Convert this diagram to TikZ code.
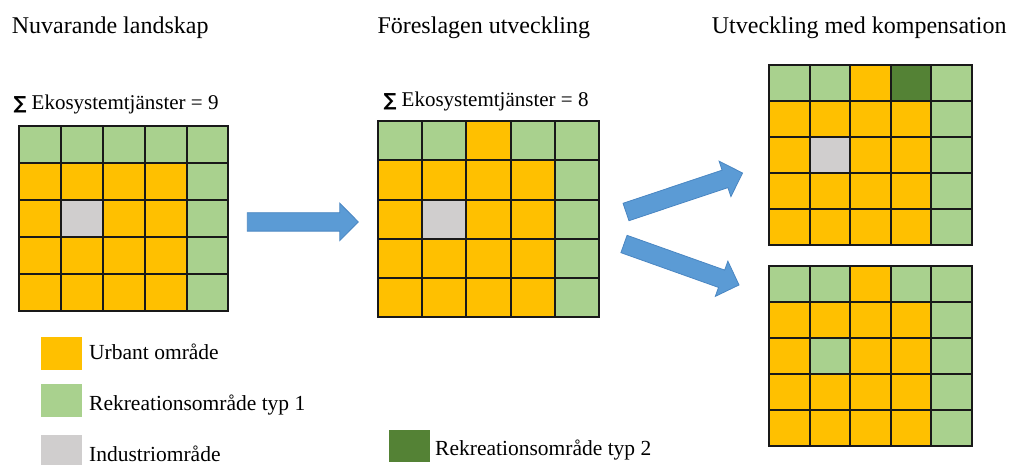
\documentclass[tikz,border=0pt]{standalone}
\usepackage{fontspec}
\setmainfont{Liberation Serif}
\newfontfamily\sigmafont{DejaVu Sans Bold}
\definecolor{cO}{HTML}{FFC000}
\definecolor{cG}{HTML}{A9D18E}
\definecolor{cI}{HTML}{D0CECE}
\definecolor{cD}{HTML}{548235}
\definecolor{arrowfill}{HTML}{5B9BD5}
\definecolor{arrowedge}{HTML}{4A86C2}
\newcommand\LandGrid[5]{%
  \foreach \cc [count=\i from 0] in {#5} {
    \pgfmathtruncatemacro\gc{mod(\i,5)}
    \pgfmathtruncatemacro\gr{div(\i,5)}
    \fill[fill=c\cc] ({#1+\gc*#3},{#2+\gr*#4}) rectangle ++(#3,#4);
  }
  \foreach \k in {0,...,5} {
    \draw[gridline] ({#1+\k*#3},#2) -- ({#1+\k*#3},{#2+5*#4});
    \draw[gridline] (#1,{#2+\k*#4}) -- ({#1+5*#3},{#2+\k*#4});
  }
}
\newcommand\BlockArrow[4]{%
  \begin{scope}[shift={(#1,#2)}, rotate=#3]
    \draw[arrowbox] (0,-9.2) -- ({#4-18.5},-9.2) -- ({#4-18.5},-18.7) -- (#4,0)
      -- ({#4-18.5},18.7) -- ({#4-18.5},9.2) -- (0,9.2) -- cycle;
  \end{scope}}
\begin{document}
\begin{tikzpicture}[x=1pt,y=-1pt,
  gridline/.style={line width=2pt, line cap=rect, black!90},
  arrowbox/.style={fill=arrowfill, draw=arrowedge, line width=0.8pt, line join=miter},
  title/.style={font=\fontsize{24}{28}\selectfont, inner sep=0pt, anchor=base west},
  label/.style={font=\fontsize{21.5}{26}\selectfont, inner sep=0pt, anchor=base west},
  sumlabel/.style={font=\fontsize{21}{26}\selectfont, inner sep=0pt, anchor=base west},
  legsq/.style={inner sep=0pt, minimum width=40.7pt, minimum height=33.3pt, anchor=north west}]
\useasboundingbox (0,0) rectangle (1009,464);
% titles
\node[title] (t1) at (11.7,33) {Nuvarande landskap};
\node[title] (t2) at (377.3,33) {Föreslagen utveckling};
\node[title] (t3) at (711.7,33) {Utveckling med kompensation};
% sums
\node[sumlabel] (s1) at (13.3,109) {{\sigmafont\fontsize{18}{20}\selectfont ∑} Ekosystemtjänster = 9};
\node[sumlabel] (s2) at (383.3,106.7) {{\sigmafont\fontsize{18}{20}\selectfont ∑} Ekosystemtjänster = 8};
% grids
\LandGrid{19.3}{125.7}{41.8}{37.06}{G,G,G,G,G, O,O,O,O,G, O,I,O,O,G, O,O,O,O,G, O,O,O,O,G}
\LandGrid{378.3}{121}{44.08}{39.26}{G,G,O,G,G, O,O,O,O,G, O,I,O,O,G, O,O,O,O,G, O,O,O,O,G}
\LandGrid{769.3}{65}{40.48}{36}{G,G,O,D,G, O,O,O,O,G, O,I,O,O,G, O,O,O,O,G, O,O,O,O,G}
\LandGrid{769.3}{265.7}{40.48}{36.06}{G,G,O,G,G, O,O,O,O,G, O,G,O,O,G, O,O,O,O,G, O,O,O,O,G}
% arrows
\BlockArrow{247.3}{221.9}{0}{111}
\BlockArrow{626}{212}{18.5}{122.9}
\BlockArrow{624}{244}{-19.6}{122.1}
% legend
\node[legsq, fill=cO] (lo) at (41,336.7) {};
\node[label] (lot) at (89,359.3) {Urbant område};
\node[legsq, fill=cG] (lg) at (41,383.3) {};
\node[label] (lgt) at (89,410) {Rekreationsområde typ 1};
\node[legsq, fill=cI] (li) at (41,435) {};
\node[label] (lit) at (89,461) {Industriområde};
\node[legsq, fill=cD, minimum width=41pt, minimum height=31.7pt] (ld) at (388.3,430) {};
\node[label] (ldt) at (435,455) {Rekreationsområde typ 2};
\end{tikzpicture}
\end{document}
